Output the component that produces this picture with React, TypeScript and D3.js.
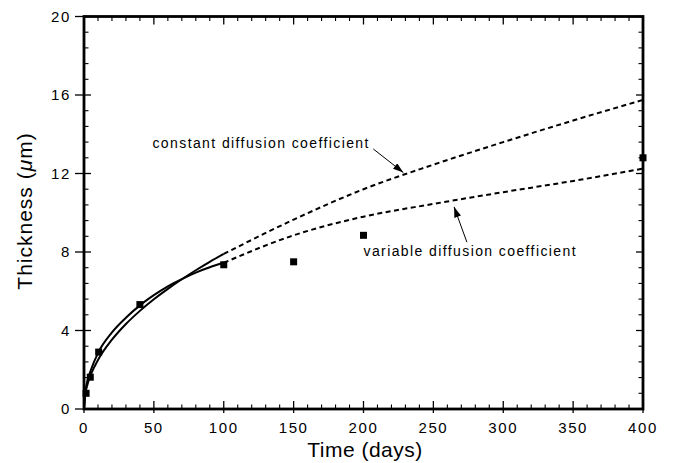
import React from "react";
import * as d3 from "d3";

// ---- data ----
const timeSolid = [0, 1, 2, 5, 10, 20, 30, 40, 50, 60, 70, 80, 90, 100];
const constantSolid = [0, 0.79, 1.12, 1.77, 2.5, 3.53, 4.33, 5.0, 5.59, 6.12, 6.61, 7.07, 7.5, 7.9];
const variableSolid = [0, 0.9, 1.3, 2.0, 2.85, 3.9, 4.65, 5.28, 5.8, 6.25, 6.62, 6.95, 7.22, 7.45];

const timeDashed = [100, 150, 200, 250, 300, 350, 400];
const constantDashed = [7.9, 9.65, 11.2, 12.45, 13.6, 14.7, 15.75];
const variableDashed = [7.45, 8.85, 9.8, 10.45, 11.05, 11.62, 12.25];

const measuredTime = [1.5, 4.5, 10.5, 40, 100, 150, 200, 400];
const measuredThickness = [0.8, 1.62, 2.9, 5.32, 7.35, 7.5, 8.85, 12.8];

const xTicks = [0, 50, 100, 150, 200, 250, 300, 350, 400];
const yTicks = [0, 4, 8, 12, 16, 20];

const annotations = [
  { label: "constant diffusion coefficient", tx: 49, ty: 13.3, ax: 207, ay: 13.25, hx: 228.5, hy: 12.05 },
  { label: "variable diffusion coefficient", tx: 200, ty: 7.79, ax: 274, ay: 8.5, hx: 264.8, hy: 10.3 },
];

export default function App() {
  const W = 676, H = 463;
  const L = 84, R = 643, T = 16.5, B = 409;
  const x = d3.scaleLinear().domain([0, 400]).range([L, R]);
  const y = d3.scaleLinear().domain([0, 20]).range([B, T]);

  const line = d3
    .line<[number, number]>()
    .x((d) => x(d[0]))
    .y((d) => y(d[1]))
    .curve(d3.curveMonotoneX);

  const zip = (a: number[], b: number[]) => a.map((v, i) => [v, b[i]] as [number, number]);

  const xMinor = d3.range(0, 401, 10).filter((v) => v % 50 !== 0);
  const yMinor = d3.range(0, 20.01, 0.8).filter((v) => Math.abs(v / 4 - Math.round(v / 4)) > 0.01);

  const font = "'Liberation Sans', Arial, Helvetica, sans-serif";

  return (
    <svg width={W} height={H} style={{ position: "absolute", left: 0, top: 0, background: "#fff" }}>
      <defs>
        <marker id="ah" viewBox="0 0 12 8" refX="12" refY="4" markerWidth="11" markerHeight="7" orient="auto" markerUnits="userSpaceOnUse">
          <path d="M0,0 L12,4 L0,8 z" fill="#000" />
        </marker>
      </defs>

      {/* curves */}
      <path d={line(zip(timeSolid, constantSolid)) || ""} fill="none" stroke="#000" strokeWidth={2} />
      <path d={line(zip(timeSolid, variableSolid)) || ""} fill="none" stroke="#000" strokeWidth={2} />
      <path d={line(zip(timeDashed, constantDashed)) || ""} fill="none" stroke="#000" strokeWidth={2} strokeDasharray="5,3.5" />
      <path d={line(zip(timeDashed, variableDashed)) || ""} fill="none" stroke="#000" strokeWidth={2} strokeDasharray="5,3.5" />

      {/* measured points */}
      {measuredTime.map((t, i) => (
        <rect key={i} x={x(t) - 3.5} y={y(measuredThickness[i]) - 3.5} width={7} height={7} fill="#000" />
      ))}

      {/* frame */}
      <rect x={L} y={T} width={R - L} height={B - T} fill="none" stroke="#000" strokeWidth={2.8} />

      {/* x ticks bottom & top */}
      {xTicks.map((v) => (
        <g key={"xt" + v}>
          <line x1={x(v)} x2={x(v)} y1={B + 4} y2={B - 8} stroke="#000" strokeWidth={1.3} />
          <line x1={x(v)} x2={x(v)} y1={T} y2={T + 8} stroke="#000" strokeWidth={1.3} />
          <text x={x(v)} y={433} textAnchor="middle" fontFamily={font} fontSize={15} letterSpacing={1.6} fill="#000">
            {v}
          </text>
        </g>
      ))}
      {xMinor.map((v) => (
        <g key={"xm" + v}>
          <line x1={x(v)} x2={x(v)} y1={B} y2={B - 4.5} stroke="#000" strokeWidth={1.1} />
          <line x1={x(v)} x2={x(v)} y1={T} y2={T + 4.5} stroke="#000" strokeWidth={1.1} />
        </g>
      ))}

      {/* y ticks left & right */}
      {yTicks.map((v) => (
        <g key={"yt" + v}>
          <line x1={L - 9} x2={L + 7} y1={y(v)} y2={y(v)} stroke="#000" strokeWidth={1.3} />
          <line x1={R} x2={R - 7} y1={y(v)} y2={y(v)} stroke="#000" strokeWidth={1.3} />
          <text x={71} y={y(v)} dy="0.36em" textAnchor="end" fontFamily={font} fontSize={15} letterSpacing={1.6} fill="#000">
            {v}
          </text>
        </g>
      ))}
      {yMinor.map((v) => (
        <g key={"ym" + v}>
          <line x1={L} x2={L + 4.5} y1={y(v)} y2={y(v)} stroke="#000" strokeWidth={1.1} />
          <line x1={R} x2={R - 4.5} y1={y(v)} y2={y(v)} stroke="#000" strokeWidth={1.1} />
        </g>
      ))}

      {/* axis titles */}
      <text x={365} y={457} textAnchor="middle" fontFamily={font} fontSize={21} letterSpacing={0.5} fill="#000">
        Time (days)
      </text>
      <text
        transform={`translate(31.5,211) rotate(-90)`}
        textAnchor="middle"
        fontFamily={font}
        fontSize={21}
        letterSpacing={1}
        fill="#000"
      >
        Thickness (<tspan fontStyle="italic">μ</tspan>m)
      </text>

      {/* annotations */}
      {annotations.map((a, i) => (
        <g key={"an" + i}>
          <text x={x(a.tx)} y={y(a.ty)} fontFamily={font} fontSize={14} letterSpacing={1.4} fill="#000">
            {a.label}
          </text>
          <line x1={x(a.ax)} y1={y(a.ay)} x2={x(a.hx)} y2={y(a.hy)} stroke="#000" strokeWidth={1} markerEnd="url(#ah)" />
        </g>
      ))}
    </svg>
  );
}
